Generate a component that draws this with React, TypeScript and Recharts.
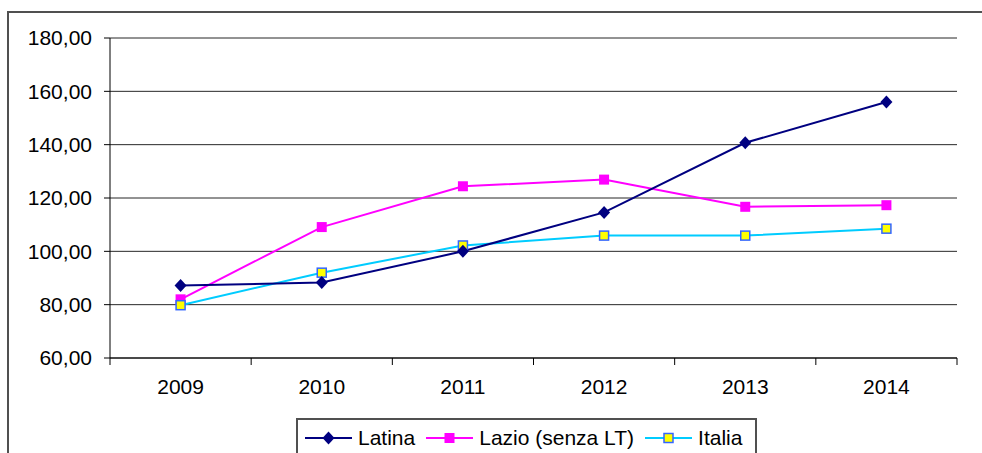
import React from 'react'
import { LineChart, Line, XAxis, YAxis, CartesianGrid } from 'recharts'

const years = ['2009', '2010', '2011', '2012', '2013', '2014']
const latina = [87.2, 88.3, 100.0, 114.6, 140.7, 156.0]
const lazio = [82.0, 109.1, 124.4, 126.9, 116.7, 117.3]
const italia = [79.8, 92.0, 102.2, 105.9, 105.9, 108.5]
const yTicks = [60, 80, 100, 120, 140, 160, 180]

const data = years.map((year, i) => ({
  year,
  latina: latina[i],
  lazio: lazio[i],
  italia: italia[i],
}))

const W = 982
const H = 453
const PLOT_LEFT = 110
const PLOT_RIGHT = 957
const BAND = (PLOT_RIGHT - PLOT_LEFT) / years.length
const FONT = '"Liberation Sans", Arial, sans-serif'

const NAVY = '#000080'
const MAGENTA = '#ff00ff'
const CYAN = '#00ccff'

const fmt = (v: number) => v.toFixed(2).replace('.', ',')

function Diamond({ cx, cy }: { cx: number; cy: number }) {
  return <path d={`M${cx},${cy - 6.5} L${cx + 6},${cy} L${cx},${cy + 6.5} L${cx - 6},${cy} Z`} fill={NAVY} />
}

function PinkSquare({ cx, cy }: { cx: number; cy: number }) {
  return <rect x={cx - 5} y={cy - 5} width={10} height={10} fill={MAGENTA} />
}

function YellowSquare({ cx, cy }: { cx: number; cy: number }) {
  return <rect x={cx - 4.5} y={cy - 4.5} width={9} height={9} fill="#ffff00" stroke="#3366ff" strokeWidth={1.5} />
}

const dotOf = (Comp: any) => (props: any) =>
  <Comp key={`${Comp.name}-${props.index}`} cx={props.cx} cy={props.cy} />

function YearTick(props: any) {
  const { x, y, payload, index } = props
  const axisY = y - 7
  const left = x - BAND / 2
  const right = x + BAND / 2
  return (
    <g>
      <line x1={left} y1={axisY} x2={left} y2={axisY + 7} stroke="#000" />
      {index === years.length - 1 && (
        <line x1={right} y1={axisY} x2={right} y2={axisY + 7} stroke="#000" />
      )}
      <text x={x} y={y + 29} textAnchor="middle" fontSize={21} fontFamily={FONT} fill="#000">
        {payload.value}
      </text>
    </g>
  )
}

function LegendIcon({ kind, color }: { kind: string; color: string }) {
  return (
    <svg width={47} height={16} style={{ display: 'block' }}>
      <line x1={0} y1={8} x2={47} y2={8} stroke={color} strokeWidth={2} />
      {kind === 'diamond' && <Diamond cx={23.5} cy={8} />}
      {kind === 'pink' && <PinkSquare cx={23.5} cy={8} />}
      {kind === 'yellow' && <YellowSquare cx={23.5} cy={8} />}
    </svg>
  )
}

const legendItems = [
  { label: 'Latina', kind: 'diamond', color: NAVY },
  { label: 'Lazio (senza LT)', kind: 'pink', color: MAGENTA },
  { label: 'Italia', kind: 'yellow', color: CYAN },
]

export default function App() {
  return (
    <div style={{ position: 'relative', width: W, height: H, overflow: 'hidden', background: '#fff' }}>
      <style>{'body{margin:0}'}</style>
      <div
        style={{
          position: 'absolute',
          left: 7,
          top: 11,
          width: 1100,
          height: 600,
          border: '2px solid #505050',
        }}
      />
      <div style={{ position: 'absolute', left: 0, top: 0 }}>
        <LineChart width={W} height={H} data={data} margin={{ top: 38, right: W - PLOT_RIGHT, left: 0, bottom: 35 }}>
          <CartesianGrid vertical={false} stroke="#000" strokeOpacity={0.85} />
          <XAxis
            dataKey="year"
            scale="band"
            height={60}
            axisLine={{ stroke: '#000' }}
            tickLine={false}
            tickSize={7}
            tickMargin={0}
            tick={<YearTick />}
            interval={0}
          />
          <YAxis
            width={PLOT_LEFT}
            domain={[60, 180]}
            ticks={yTicks}
            tickFormatter={fmt}
            axisLine={{ stroke: '#000' }}
            tickLine={{ stroke: '#000' }}
            tickSize={6}
            tickMargin={12}
            tick={{ fill: '#000', fontSize: 21, fontFamily: FONT }}
          />
          <YAxis
            yAxisId="r"
            orientation="right"
            width={0}
            domain={[60, 180]}
            tick={false}
            tickLine={false}
            axisLine={{ stroke: '#808080' }}
          />
          <Line
            dataKey="lazio"
            stroke={MAGENTA}
            strokeWidth={2}
            dot={dotOf(PinkSquare)}
            activeDot={false}
            isAnimationActive={false}
          />
          <Line
            dataKey="italia"
            stroke={CYAN}
            strokeWidth={2}
            dot={dotOf(YellowSquare)}
            activeDot={false}
            isAnimationActive={false}
          />
          <Line
            dataKey="latina"
            stroke={NAVY}
            strokeWidth={2}
            dot={dotOf(Diamond)}
            activeDot={false}
            isAnimationActive={false}
          />
        </LineChart>
      </div>
      <div
        style={{
          position: 'absolute',
          left: 296,
          top: 418,
          width: 461,
          height: 40,
          border: '2px solid #505050',
          boxSizing: 'border-box',
          display: 'flex',
          alignItems: 'flex-start',
          paddingLeft: 7,
          paddingTop: 7,
          fontFamily: FONT,
          fontSize: 21,
          color: '#000',
          background: '#fff',
        }}
      >
        {legendItems.map((it) => (
          <div key={it.label} style={{ display: 'flex', alignItems: 'center', marginRight: 11 }}>
            <LegendIcon kind={it.kind} color={it.color} />
            <span style={{ marginLeft: 6, lineHeight: '22px' }}>{it.label}</span>
          </div>
        ))}
      </div>
    </div>
  )
}
